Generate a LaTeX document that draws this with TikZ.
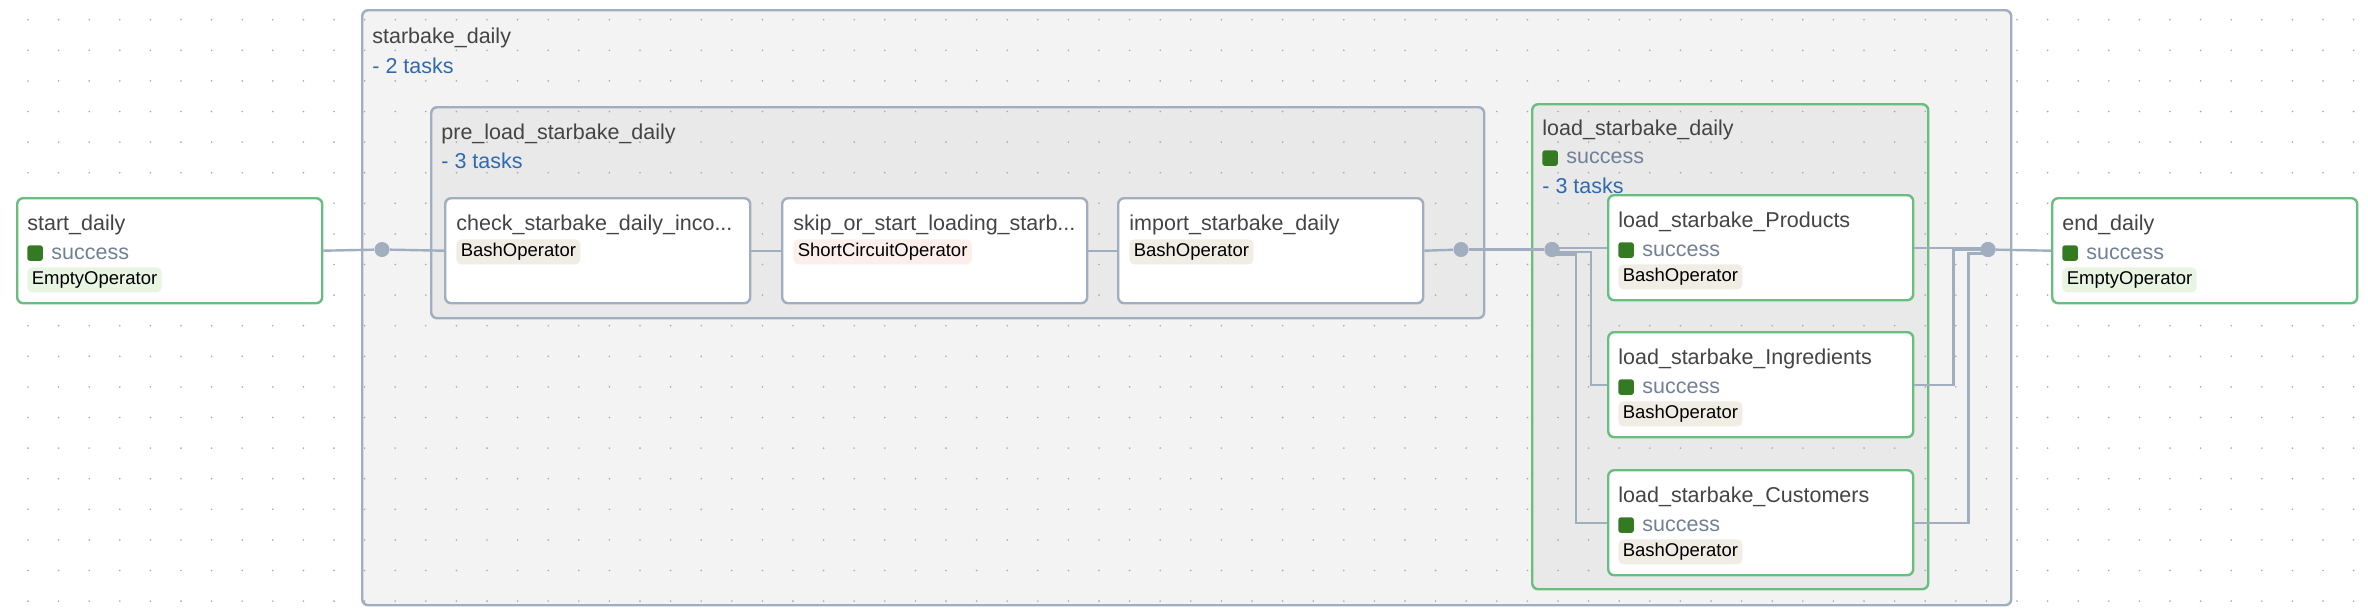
\documentclass[tikz,border=0pt]{standalone}
\usepackage{fontspec}
\setmainfont{Liberation Sans}
\usetikzlibrary{calc}

\definecolor{edgec}{HTML}{A0AEC0}
\definecolor{okgreen}{HTML}{68BD7F}
\definecolor{sqgreen}{RGB}{52,122,34}
\definecolor{statusc}{HTML}{718096}
\definecolor{taskblue}{HTML}{2F6AB0}
\definecolor{titlec}{HTML}{444444}
\definecolor{outerfill}{HTML}{F3F3F3}
\definecolor{innerfill}{HTML}{E9E9E9}
\definecolor{bashfill}{HTML}{F0EDE5}
\definecolor{emptyfill}{HTML}{E8F5E3}
\definecolor{scfill}{HTML}{FCEEEA}
\definecolor{gridc}{HTML}{A8A8A8}

\tikzset{
 taskbox/.style={draw=edgec, line width=1.2pt, fill=white, rounded corners=3pt, minimum width=152.5pt, minimum height=52.5pt, inner sep=0pt, anchor=north west},
 okbox/.style={taskbox, draw=okgreen},
 grp/.style={draw=edgec, line width=1.2pt, rounded corners=3pt, inner sep=0pt, anchor=north west},
 ttl/.style={font=\fontsize{10.75}{12}\selectfont, text=titlec, inner sep=0pt, anchor=base west},
 ntasks/.style={ttl, text=taskblue},
 stxt/.style={ttl, text=statusc},
 sq/.style={fill=sqgreen, rounded corners=1.2pt, minimum size=7.7pt, inner sep=0pt, anchor=north west},
 pill/.style={rounded corners=2.5pt, font=\fontsize{9.25}{10}\selectfont, text=black, inner xsep=2.2pt, inner ysep=0pt, minimum height=12.5pt, text height=7pt, text depth=2pt, anchor=north west},
 edge/.style={draw=edgec, line width=1.2pt},
 jdot/.style={circle, fill=edgec, minimum size=7.5pt, inner sep=0pt},
}

\newcommand{\succtask}[6]{%
 \node[okbox] (#1) at (#2,#3) {};
 \node[ttl] (#1-title) at ($(#1.north west)+(11,33)$) {#4};
 \node[sq] (#1-sq) at ($(#1.north west)+(11,48)$) {};
 \node[stxt] (#1-st) at ($(#1.north west)+(35,62)$) {success};
 \node[pill, fill=#6] (#1-op) at ($(#1.north west)+(11,70)$) {#5};
}
\newcommand{\plaintask}[6]{%
 \node[taskbox] (#1) at (#2,#3) {};
 \node[ttl] (#1-title) at ($(#1.north west)+(12,33)$) {#4};
 \node[pill, fill=#6] (#1-op) at ($(#1.north west)+(12,42)$) {#5};
}

\begin{document}
\begin{tikzpicture}[x=0.5pt,y=-0.5pt]
\useasboundingbox (0,0) rectangle (2368,612);
\fill[white] (0,0) rectangle (2368,612);

% groups
\node[grp, fill=outerfill, minimum width=824.5pt, minimum height=297.5pt] (sd) at (361,9) {};
\node[grp, fill=innerfill, minimum width=526.5pt, minimum height=105.5pt] (pre) at (430,106) {};
\node[grp, draw=okgreen, fill=innerfill, minimum width=198pt, minimum height=242.5pt] (lsd) at (1531,103) {};

% background grid
\foreach \i in {0,...,76}{\foreach \j in {0,...,19}{\fill[gridc] ({28+30.6*\i},{19.7+30.6*\j}) circle[radius=0.45pt];}}

% group labels
\node[ttl] (sd-t) at ($(sd.north west)+(11,34)$) {starbake\_daily};
\node[ntasks] (sd-n) at ($(sd.north west)+(11,64)$) {- 2 tasks};
\node[ttl] (pre-t) at ($(pre.north west)+(11,33)$) {pre\_load\_starbake\_daily};
\node[ntasks] (pre-n) at ($(pre.north west)+(11,62)$) {- 3 tasks};
\node[ttl] (lsd-t) at ($(lsd.north west)+(11,32)$) {load\_starbake\_daily};
\node[sq] (lsd-sq) at ($(lsd.north west)+(11,47)$) {};
\node[stxt] (lsd-st) at ($(lsd.north west)+(35,60)$) {success};
\node[ntasks] (lsd-n) at ($(lsd.north west)+(11,90)$) {- 3 tasks};

% junction dots
\node[jdot] (d1) at (382,249.5) {};
\node[jdot] (d2) at (1461,249.5) {};
\node[jdot] (d3) at (1552,249.5) {};
\node[jdot] (d4) at (1988,249.5) {};

% tasks
\succtask{start}{16}{197}{start\_daily}{EmptyOperator}{emptyfill}
\plaintask{check}{444}{197}{check\_starbake\_daily\_inco...}{BashOperator}{bashfill}
\plaintask{skip}{781}{197}{skip\_or\_start\_loading\_starb...}{ShortCircuitOperator}{scfill}
\plaintask{import}{1117}{197}{import\_starbake\_daily}{BashOperator}{bashfill}
\succtask{prod}{1607}{194}{load\_starbake\_Products}{BashOperator}{bashfill}
\succtask{ing}{1607}{331}{load\_starbake\_Ingredients}{BashOperator}{bashfill}
\succtask{cus}{1607}{469}{load\_starbake\_Customers}{BashOperator}{bashfill}
\succtask{end}{2051}{197}{end\_daily}{EmptyOperator}{emptyfill}

% edges
\draw[edge] (start.east) -- (d1);
\draw[edge] (d1) -- (check.west);
\draw[edge] (check.east) -- (skip.west);
\draw[edge] (skip.east) -- (import.west);
\draw[edge] (import.east) -- (d2);
\draw[edge] (d2) -- (d3);
\draw[edge] (d3.center |- prod.west) -- (prod.west);
\draw[edge] ($(d3.center)+(0,2.5)$) -| ($(ing.west)+(-16,0)$) -- (ing.west);
\draw[edge] ($(d3.center)+(0,5)$) -| ($(cus.west)+(-31,0)$) -- (cus.west);
\draw[edge] (prod.east) -- (prod.east -| d4.center);
\draw[edge] (ing.east) -- ($(ing.east)+(39,0)$) |- (d4.center);
\draw[edge] (cus.east) -- ($(cus.east)+(54,0)$) |- ($(d4.center)+(0,4)$);
\draw[edge] (d4) -- (end.west);
\node[jdot] at (d3) {};
\node[jdot] at (d4) {};
\end{tikzpicture}
\end{document}
